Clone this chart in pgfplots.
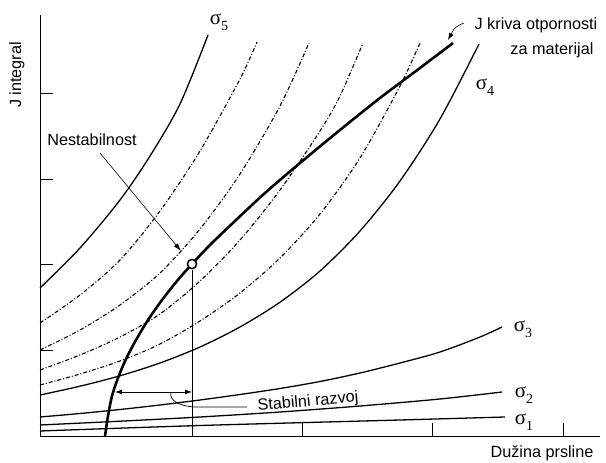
\documentclass[border=0pt]{standalone}
\usepackage{fontspec}
\setmainfont{Liberation Sans}
\newfontfamily\sigfont{Liberation Serif}
\usepackage{pgfplots}
\pgfplotsset{compat=1.18}
\usetikzlibrary{arrows.meta}
\newcommand{\sig}[1]{{\fontsize{21}{24}\selectfont\sigfont σ\raisebox{-0.28em}{\fontsize{14}{16}\selectfont #1}}}
\newcommand{\lbl}{\fontsize{16.3}{19}\selectfont}
\begin{document}
\begin{tikzpicture}
\useasboundingbox (0,0) rectangle (606bp,463bp);
\begin{axis}[
  at={(40bp,27bp)}, anchor=south west,
  scale only axis, width=560bp, height=421bp,
  xmin=0, xmax=560, ymin=0, ymax=421,
  axis x line=bottom, axis y line=left,
  axis line style={-, line width=0.7pt},
  xtick={262,392,523}, ytick={86,172,257,343},
  xticklabels={}, yticklabels={},
  tick align=inside, major tick length=13bp,
  tick style={black, line width=0.7pt},
  clip=false,
  cycle list={{black, no markers}},
  every axis plot/.append style={black, smooth, line width=1.3pt},
]
% sigma 1..5 (solid)
\addplot coordinates {(0,5)(160,10.5)(360,16)(465,19)};
\addplot coordinates {(0,11)(80,14.8)(160,19)(240,24)(320,30)(400,37)(462,44)};
\addplot coordinates {(0,19)(40,22.5)(80,26.5)(120,31)(160,36)(200,41.5)(240,47.5)(280,54.5)(320,63)(360,73)(400,84)(440,99)(462,109)};
\addplot coordinates {(0,41)(40,49.8)(80,60.2)(120,73)(160,89)(200,109)(240,133.8)(280,165)(320,205)(360,255)(400,317)(439,392)};
\addplot coordinates {(0,148)(40,188)(80,236)(110,280)(140,332)(168,401)};
% dash-dot curves
\addplot[line width=1.1pt, dash pattern=on 4pt off 2pt on 1pt off 2pt] coordinates {(0,113)(40,141)(80,176)(120,225)(160,285)(200,357)(217,394)};
\addplot[line width=1.1pt, dash pattern=on 4pt off 2pt on 1pt off 2pt] coordinates {(0,86)(40,106)(80,131)(120,163)(160,207)(200,262)(240,330)(269,393)};
\addplot[line width=1.1pt, dash pattern=on 4pt off 2pt on 1pt off 2pt] coordinates {(0,66)(40,81)(80,99)(120,122)(160,155)(200,196)(240,246)(280,305)(300,340)(323,393)};
\addplot[line width=1.1pt, dash pattern=on 4pt off 2pt on 1pt off 2pt] coordinates {(0,51)(40,62)(80,75)(120,92)(160,115)(200,143)(240,178)(280,222)(320,278)(360,350)(380,393)};
% J resistance curve
\addplot[line width=2.6pt] coordinates {(65,0)(68,20)(72,40)(78,58)(86,77)(96,96)(108,116)(122,136)(137,155)(152,172)(170,191)(195,215)(225,243)(260,273)(300,306)(340,338)(380,368)(413,393)};
% vertical line at instability
\addplot[line width=0.9pt, sharp plot] coordinates {(152,0)(152,166)};
% instability point
\addplot[only marks, mark=*, mark size=4.6pt, mark options={fill=white, draw=black, line width=1.6pt}] coordinates {(152,172)};
% annotations
\draw[-{Latex[length=8pt,width=5pt]}, line width=0.6pt] (axis cs:60,283) -- (axis cs:141,185);
\draw[-{Latex[length=7pt,width=5pt]}, line width=0.6pt] (axis cs:424,413) .. controls (axis cs:415,409) .. (axis cs:408,396);
\draw[{Latex[length=7pt,width=5pt]}-{Latex[length=7pt,width=5pt]}, line width=0.8pt] (axis cs:75,44) -- (axis cs:152,44);
\draw[line width=0.7pt] (axis cs:207,29) -- (axis cs:155,29) .. controls (axis cs:138,30) and (axis cs:129,36) .. (axis cs:131,44);
\node[font=\lbl, rotate=5] at (axis cs:268,34) {Stabilni razvoj};
\node[font=\lbl] at (axis cs:52,296) {Nestabilnost};
\node[font=\lbl] at (axis cs:496,411) {J kriva otpornosti};
\node[font=\lbl] at (axis cs:512,386) {za materijal};
\node[font=\lbl] at (axis cs:502,-17) {Dužina prsline};
\node[font=\lbl, rotate=90] at (axis cs:-23,361) {J integral};
\node at (axis cs:179,414) {\sig{5}};
\node at (axis cs:445,349) {\sig{4}};
\node at (axis cs:483,107) {\sig{3}};
\node at (axis cs:484,41) {\sig{2}};
\node at (axis cs:484,14) {\sig{1}};
\end{axis}
\end{tikzpicture}
\end{document}
